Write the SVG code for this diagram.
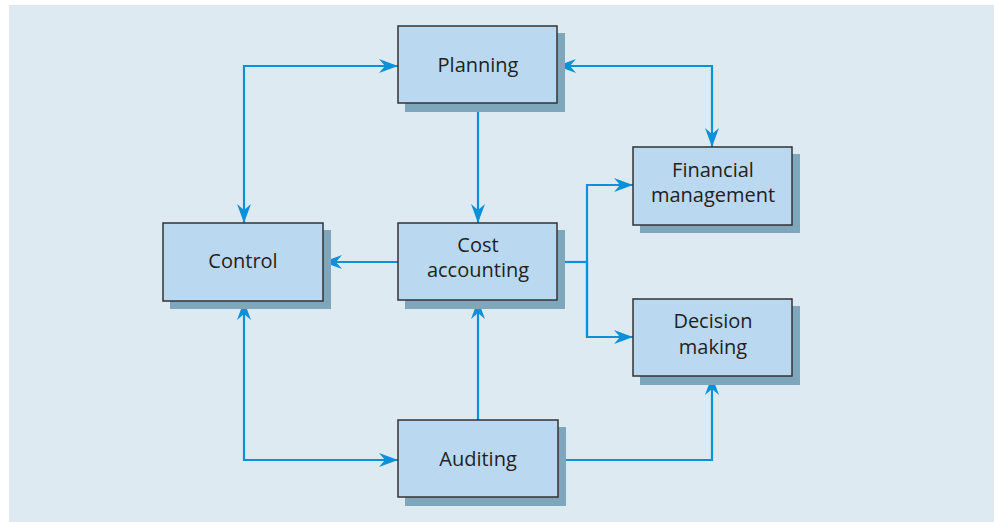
<svg xmlns="http://www.w3.org/2000/svg" width="994" height="522" viewBox="0 0 994 522">
<style>
.shadow{fill:#7fa7bc}
.box{fill:#bad8f0;stroke:#333;stroke-width:1.5}
.lbl{font-family:"Open Sans","Noto Sans",sans-serif;font-size:20px;fill:#231f20;text-anchor:middle}
.con{fill:none;stroke:#0a91d9;stroke-width:2.2}
</style>
<defs>
<marker id="ah" markerUnits="userSpaceOnUse" markerWidth="24" markerHeight="16" viewBox="-20 -8 22 16" refX="0" refY="0" orient="auto-start-reverse">
<path d="M0,0 L-19,-7 L-13,0 L-19,7 Z" fill="#0a91d9"/>
</marker>
</defs>
<rect x="0" y="0" width="994" height="522" fill="#ffffff"/>
<rect x="9" y="5" width="985" height="517" fill="#deeaf2"/>
<g id="connectors">
<path class="con" d="M244,223 V66 H398" marker-start="url(#ah)" marker-end="url(#ah)"/>
<path class="con" d="M557,66 H712 V147" marker-start="url(#ah)" marker-end="url(#ah)"/>
<path class="con" d="M478,104 V223" marker-end="url(#ah)"/>
<path class="con" d="M398,262 H323" marker-end="url(#ah)"/>
<path class="con" d="M557,262 H587"/>
<path class="con" d="M587,337 V185 H633" marker-end="url(#ah)"/>
<path class="con" d="M587,260 V337 H633" marker-end="url(#ah)"/>
<path class="con" d="M478,420 V300" marker-end="url(#ah)"/>
<path class="con" d="M244,301 V460 H398" marker-start="url(#ah)" marker-end="url(#ah)"/>
<path class="con" d="M558,460 H712 V376" marker-end="url(#ah)"/>
</g>
<g id="planning">
<rect class="shadow" x="405" y="33" width="160" height="79"/>
<rect class="box" x="398" y="26" width="159" height="77"/>
<text class="lbl" x="478" y="72">Planning</text>
</g>
<g id="control">
<rect class="shadow" x="170" y="230" width="161" height="79"/>
<rect class="box" x="163" y="223" width="160" height="78"/>
<text class="lbl" x="243" y="268">Control</text>
</g>
<g id="cost-accounting">
<rect class="shadow" x="405" y="230" width="160" height="79"/>
<rect class="box" x="398" y="223" width="159" height="77"/>
<text class="lbl" x="478" y="252">Cost</text>
<text class="lbl" x="478" y="277">accounting</text>
</g>
<g id="financial-management">
<rect class="shadow" x="640" y="154" width="160" height="79"/>
<rect class="box" x="633" y="147" width="159" height="78"/>
<text class="lbl" x="713" y="177">Financial</text>
<text class="lbl" x="713" y="202">management</text>
</g>
<g id="decision-making">
<rect class="shadow" x="640" y="306" width="160" height="79"/>
<rect class="box" x="633" y="299" width="159" height="77"/>
<text class="lbl" x="713" y="328">Decision</text>
<text class="lbl" x="713" y="354">making</text>
</g>
<g id="auditing">
<rect class="shadow" x="405" y="427" width="161" height="79"/>
<rect class="box" x="398" y="420" width="160" height="77"/>
<text class="lbl" x="478" y="466">Auditing</text>
</g>
</svg>
